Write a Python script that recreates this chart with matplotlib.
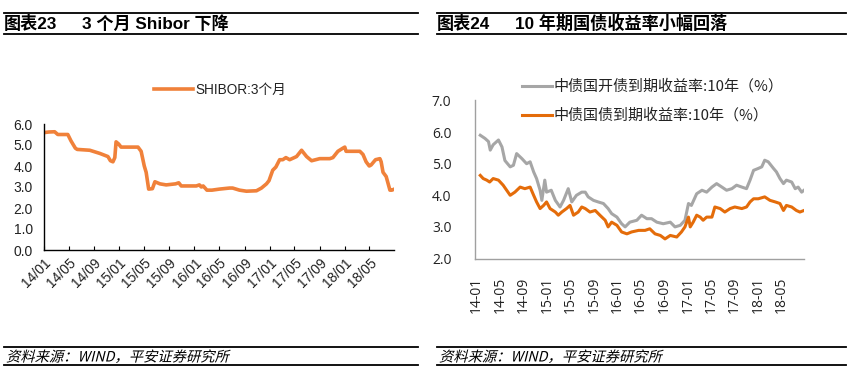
import matplotlib
matplotlib.use("Agg")
import matplotlib.pyplot as plt
import pandas as pd
from matplotlib.lines import Line2D
from matplotlib.textpath import TextPath
from matplotlib.patches import PathPatch
from matplotlib.font_manager import FontProperties
from matplotlib.transforms import Affine2D

# ---------------- data ----------------
# months elapsed since 2014-01-01
shibor_months = [0, 0.8, 1.7, 2.2, 3.8, 4.3, 5.0, 5.3, 7.3, 8.9, 10.2, 10.6, 11.0, 11.3, 11.5, 11.9,
                 12.3, 15.0, 15.5, 16.0, 16.3, 16.7, 17.3, 17.7, 18.5, 19.5, 21.0, 21.5, 21.9, 24.3,
                 24.8, 25.1, 25.4, 26.0, 26.8, 28.0, 29.6, 30.1, 31.2, 32.3, 33.9, 34.7, 35.5, 35.9,
                 36.5, 37.0, 37.6, 38.1, 38.6, 39.2, 40.3, 41.1, 41.9, 42.7, 44.0, 45.6, 46.1, 46.9,
                 47.7, 48.0, 48.2, 50.4, 50.9, 51.4, 51.9, 52.2, 52.9, 53.6, 53.8, 54.1, 54.6, 55.2,
                 55.5, 55.9]
shibor_3m = [5.59, 5.62, 5.63, 5.5, 5.5, 5.2, 4.85, 4.79, 4.75, 4.6, 4.45, 4.25, 4.2, 4.4, 5.15, 5.05,
             4.9, 4.9, 4.7, 4.0, 3.7, 2.9, 2.92, 3.25, 3.15, 3.1, 3.15, 3.2, 3.05, 3.05,
             3.1, 3.0, 3.05, 2.85, 2.85, 2.9, 2.95, 2.95, 2.85, 2.8, 2.82, 2.95, 3.15, 3.3,
             3.8, 3.95, 4.3, 4.3, 4.4, 4.3, 4.45, 4.75, 4.45, 4.25, 4.35, 4.35, 4.4, 4.7,
             4.85, 4.9, 4.7, 4.7, 4.55, 4.2, 4.0, 4.05, 4.3, 4.35, 4.2, 3.7, 3.5, 2.85,
             2.85, 2.9]

cdb_months = [0.6, 1.4, 2.0, 2.3, 2.8, 3.7, 4.3, 4.8, 5.7, 6.25, 6.8, 7.7, 8.5, 9.1, 9.7, 10.2, 10.8,
              11.1, 11.6, 11.9, 12.7, 13.4, 14.2, 14.8, 15.6, 16.2, 17.0, 17.9, 18.5, 19.0, 19.9,
              20.7, 21.6, 22.4, 23.0, 23.9, 24.7, 25.3, 26.1, 27.3, 28.1, 29.0, 29.8, 30.7, 31.8,
              33.0, 33.8, 34.7, 35.5, 36.1, 36.6, 37.5, 38.4, 39.2, 40.1, 40.9, 41.8, 42.6, 43.5,
              44.3, 45.2, 46.0, 46.6, 47.2, 48.0, 48.6, 49.1, 49.7, 50.6, 51.1, 51.7, 52.3, 52.8,
              53.7, 54.3, 54.8, 55.4, 55.8]
cdb_10y = [5.9, 5.8, 5.7, 5.43, 5.6, 5.75, 5.53, 5.1, 4.9, 4.95, 5.32, 5.16, 5.0, 5.06, 4.74, 4.53, 4.16,
           3.84, 4.48, 4.1, 4.16, 3.84, 3.63, 3.84, 4.21, 3.79, 4.0, 4.1, 4.1, 3.95, 3.84,
           3.79, 3.74, 3.58, 3.42, 3.31, 3.1, 3.0, 3.15, 3.21, 3.37, 3.26, 3.26, 3.15, 3.1,
           3.15, 3.0, 3.05, 3.21, 3.74, 3.68, 4.05, 4.16, 4.1, 4.26, 4.37, 4.26, 4.16, 4.21,
           4.32, 4.26, 4.21, 4.48, 4.79, 4.85, 4.9, 5.11, 5.06, 4.85, 4.74, 4.53, 4.37, 4.48,
           4.42, 4.21, 4.26, 4.1, 4.16]

gov_months = [0.6, 1.1, 1.7, 2.2, 2.8, 3.7, 4.5, 5.1, 5.7, 6.5, 7.4, 8.2, 9.1, 9.7, 10.2, 10.8, 11.4,
              11.9, 12.5, 13.4, 13.9, 14.5, 15.3, 15.9, 16.5, 17.3, 17.9, 18.5, 19.3, 20.2, 21.0,
              21.9, 22.4, 23.0, 23.9, 24.7, 25.6, 26.4, 27.6, 28.7, 29.5, 30.4, 31.3, 32.1, 33.0,
              34.1, 34.9, 35.5, 36.1, 36.4, 36.9, 37.5, 38.1, 38.6, 39.2, 40.1, 40.6, 41.5, 42.3,
              43.2, 44.0, 45.2, 46.0, 46.6, 47.2, 48.0, 49.1, 50.0, 50.9, 51.7, 52.3, 52.8, 53.7,
              54.5, 55.1, 55.8]
gov_10y = [4.63, 4.53, 4.48, 4.42, 4.53, 4.48, 4.32, 4.16, 4.0, 4.1, 4.26, 4.21, 4.26, 4.0, 3.79, 3.58, 3.68,
           3.79, 3.58, 3.47, 3.37, 3.47, 3.58, 3.68, 3.37, 3.47, 3.63, 3.58, 3.47, 3.52, 3.37,
           3.21, 3.0, 3.15, 3.05, 2.84, 2.78, 2.84, 2.89, 2.89, 2.94, 2.78, 2.73, 2.62, 2.73,
           2.68, 2.84, 3.0, 3.31, 3.0, 3.15, 3.37, 3.31, 3.21, 3.31, 3.31, 3.63, 3.58, 3.47,
           3.58, 3.63, 3.58, 3.63, 3.79, 3.89, 3.89, 3.95, 3.84, 3.79, 3.74, 3.52, 3.68, 3.63,
           3.52, 3.47, 3.52]

left_ticks = ["14/01", "14/05", "14/09", "15/01", "15/05", "15/09", "16/01", "16/05",
              "16/09", "17/01", "17/05", "17/09", "18/01", "18/05"]
right_ticks = ["14-01", "14-05", "14-09", "15-01", "15-05", "15-09", "16-01", "16-05",
               "16-09", "17-01", "17-05", "17-09", "18-01", "18-05"]
tick_dates = pd.date_range("2014-01-01", periods=14, freq="4MS")

left_title_a, left_title_b = "图表23", "3 个月 Shibor 下降"
right_title_a, right_title_b = "图表24", "10 年期国债收益率小幅回落"
source_text = "资料来源：WIND，平安证券研究所"
shibor_label = "SHIBOR:3个月"
cdb_label = "中债国开债到期收益率:10年（%）"
gov_label = "中债国债到期收益率:10年（%）"

BASE = pd.Timestamp("2014-01-01")
def to_dates(months):
    return [BASE + pd.Timedelta(days=m * 30.44) for m in months]

# ---------------- figure ----------------
W, H = 851, 371
fig = plt.figure(figsize=(W / 100, H / 100), dpi=100)
fig.patch.set_facecolor("white")

def rect(x0, y_top, x1, y_bot):
    return [x0 / W, (H - y_bot) / H, (x1 - x0) / W, (y_bot - y_top) / H]

LAT = ["Liberation Sans", "Noto Sans CJK SC"]
CJK = ["Noto Sans CJK SC", "Liberation Sans"]

# ---- header / footer rules & titles ----
def hline(x0, x1, y, lw=1.3):
    fig.add_artist(Line2D([x0 / W, x1 / W], [(H - y) / H, (H - y) / H],
                          color="black", lw=lw, transform=fig.transFigure))

for (x0, x1) in [(4, 418), (437, 846)]:
    hline(x0, x1, 13)
    hline(x0, x1, 34)
    hline(x0, x1, 347)
    hline(x0, x1, 365)

TS = 12.3
fig.text(4 / W, 1 - 23.5 / H, left_title_a, fontsize=TS, fontweight="bold",
         family=LAT, va="center", ha="left")
fig.text(82 / W, 1 - 23.5 / H, left_title_b, fontsize=TS, fontweight="bold",
         family=LAT, va="center", ha="left")
fig.text(437 / W, 1 - 23.5 / H, right_title_a, fontsize=TS, fontweight="bold",
         family=LAT, va="center", ha="left")
fig.text(515 / W, 1 - 23.5 / H, right_title_b, fontsize=TS, fontweight="bold",
         family=LAT, va="center", ha="left")

# italic-looking footer via skewed text path
fp = FontProperties(family="Noto Sans CJK SC")
for x0 in [6, 439]:
    tp = TextPath((0, 0), source_text, size=14.3, prop=fp)
    tr = Affine2D().skew_deg(14, 0).translate(x0, H - 361.5)
    fig.add_artist(PathPatch(tp, transform=tr, facecolor="black", edgecolor="none"))

# ---------------- left chart ----------------
axL = fig.add_axes(rect(44, 124, 394, 250))
axL.plot(to_dates(shibor_months), shibor_3m, color="#F0813A", lw=2.6,
         solid_joinstyle="round", label=shibor_label)
axL.set_ylim(0, 6)
axL.set_yticks([0, 1, 2, 3, 4, 5, 6])
axL.set_yticklabels([f"{v:.1f}" for v in range(7)])
axL.set_xlim(BASE, to_dates([55.85])[0])
axL.set_xticks(tick_dates)
axL.set_xticklabels(left_ticks, rotation=45, ha="right", rotation_mode="anchor")
for s in ["top", "right"]:
    axL.spines[s].set_visible(False)
for s in ["left", "bottom"]:
    axL.spines[s].set_color("black")
    axL.spines[s].set_linewidth(1.0)
axL.tick_params(axis="y", length=0, pad=8, labelsize=10)
axL.tick_params(axis="x", direction="in", length=3, width=0.8, pad=4, labelsize=10)
for lab in axL.get_xticklabels() + axL.get_yticklabels():
    lab.set_family(LAT)
    lab.set_color("#222222")
leg = axL.legend(loc="center", bbox_to_anchor=(220 / W, 1 - 90 / H),
                 bbox_transform=fig.transFigure, frameon=False, handlelength=2.9,
                 handletextpad=0.2, borderpad=0, prop=FontProperties(family=LAT, size=9.8))
for t in leg.get_texts():
    t.set_color("#222222")

# ---------------- right chart ----------------
axR = fig.add_axes(rect(475, 100.5, 804, 258.5))
axR.plot(to_dates(cdb_months), cdb_10y, color="#A6A6A6", lw=2.2, label=cdb_label)
axR.plot(to_dates(gov_months), gov_10y, color="#E46C0A", lw=2.2, label=gov_label)
axR.set_ylim(2, 7)
axR.set_yticks([2, 3, 4, 5, 6, 7])
axR.set_yticklabels([f"{v:.1f}" for v in range(2, 8)])
axR.set_xlim(to_dates([-0.3])[0], to_dates([55.8])[0])
axR.set_xticks(tick_dates)
axR.set_xticklabels(right_ticks, rotation=90, ha="center", va="top")
for s in ["top", "right"]:
    axR.spines[s].set_visible(False)
for s in ["left", "bottom"]:
    axR.spines[s].set_color("#A0A0A0")
    axR.spines[s].set_linewidth(1.0)
axR.tick_params(axis="y", length=0, pad=17, labelsize=10)
axR.tick_params(axis="x", length=0, pad=13, labelsize=10)
for lab in axR.get_xticklabels() + axR.get_yticklabels():
    lab.set_family(["Open Sans", "Liberation Sans"])
    lab.set_color("#222222")
legR = axR.legend(loc="center left", bbox_to_anchor=(514 / W, 1 - 101 / H),
                  bbox_transform=fig.transFigure, frameon=False, handlelength=2.0,
                  handletextpad=0.15, borderpad=0, labelspacing=0.95,
                  prop=FontProperties(family=CJK, size=10.8))
for t in legR.get_texts():
    t.set_color("#222222")

fig.savefig("out.png", dpi=100, facecolor="white")
